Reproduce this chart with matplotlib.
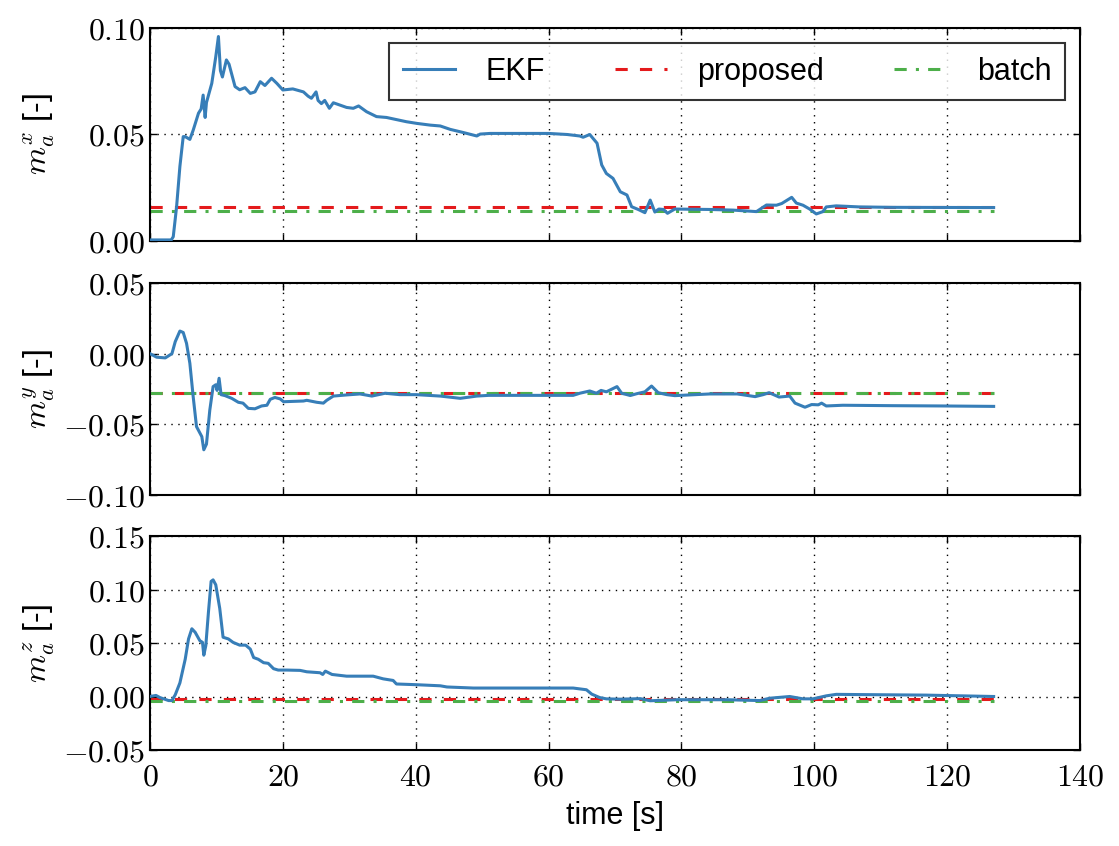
import matplotlib
matplotlib.use("Agg")
import matplotlib.pyplot as plt
from matplotlib.ticker import FuncFormatter, MultipleLocator

# ---------------- data ----------------
ekf_x_t = [0, 3.2, 3.5, 4.0, 4.5, 5.0, 5.3, 6.0, 6.5, 7.3, 7.7, 8.0, 8.3, 8.5, 9.3, 9.9, 10.3, 10.6, 10.9,
           11.5, 11.9, 12.8, 13.5, 14.3, 15.1, 15.8, 16.6, 17.3, 18.3, 19.1, 20.0, 21.5, 23.1, 23.8, 24.3,
           25.0, 25.3, 25.8, 26.3, 27.0, 27.6, 28.6, 29.6, 30.6, 31.4, 32.6, 34.1, 35.6, 37.1, 38.6, 40.2,
           42.2, 43.7, 45.2, 47.2, 49.2, 49.7, 51.2, 60.0, 62.8, 64.7, 65.2, 66.2, 67.3, 68.0, 68.7, 69.7,
           70.8, 71.8, 72.5, 73.5, 74.5, 75.3, 76.0, 76.6, 77.3, 77.9, 79.0, 84.3, 87.8, 91.3, 92.8, 94.3,
           95.1, 96.6, 97.3, 98.3, 99.3, 100.3, 101.3, 101.8, 103.3, 106.8, 111.8, 127.0]
ekf_x_v = [0.0005, 0.0005, 0.002, 0.016, 0.035, 0.049, 0.049, 0.0477, 0.052, 0.060, 0.062, 0.0685, 0.058,
           0.065, 0.074, 0.0865, 0.096, 0.080, 0.077, 0.085, 0.083, 0.0725, 0.071, 0.072, 0.0693, 0.070,
           0.0748, 0.073, 0.0764, 0.074, 0.0709, 0.0714, 0.070, 0.068, 0.067, 0.070, 0.066, 0.0645, 0.066,
           0.0623, 0.0649, 0.0638, 0.0627, 0.0623, 0.0634, 0.0607, 0.0584, 0.058, 0.057, 0.056, 0.0552,
           0.0544, 0.054, 0.0524, 0.0509, 0.0493, 0.0502, 0.0505, 0.0505, 0.050, 0.0493, 0.0487, 0.050,
           0.0459, 0.0357, 0.0317, 0.0294, 0.0231, 0.0216, 0.0161, 0.0148, 0.0133, 0.0192, 0.0136, 0.015,
           0.0148, 0.013, 0.015, 0.0148, 0.0145, 0.0138, 0.0169, 0.0168, 0.0176, 0.0205, 0.0178, 0.0168,
           0.015, 0.0127, 0.0138, 0.016, 0.0165, 0.016, 0.0158, 0.0157]

ekf_y_t = [0, 1.0, 2.3, 3.3, 3.8, 4.5, 5.0, 5.5, 6.0, 6.5, 7.0, 7.8, 8.1, 8.5, 9.0, 9.5, 9.9, 10.1, 10.4,
           10.7, 11.3, 12.3, 13.3, 14.0, 14.8, 15.8, 16.8, 17.6, 18.1, 18.8, 19.6, 20.1, 23.1, 23.6, 25.1,
           26.1, 26.6, 27.6, 29.6, 31.6, 33.4, 35.4, 37.6, 40.1, 43.7, 46.7, 49.2, 51.0, 63.7, 64.7, 66.2,
           67.2, 67.9, 68.7, 70.3, 71.0, 72.3, 73.3, 74.5, 75.5, 76.5, 77.8, 79.0, 84.3, 88.4, 91.1, 92.3,
           93.2, 94.7, 96.3, 97.1, 98.6, 99.6, 100.6, 101.1, 101.8, 104.3, 111.8, 119.3, 127.0]
ekf_y_v = [0.0, -0.0025, -0.003, 0.0, 0.0085, 0.016, 0.015, 0.0073, -0.0068, -0.0304, -0.0516, -0.0587,
           -0.068, -0.064, -0.040, -0.0233, -0.022, -0.026, -0.0174, -0.029, -0.0297, -0.0316, -0.0344,
           -0.035, -0.0387, -0.039, -0.037, -0.0365, -0.0323, -0.031, -0.032, -0.034, -0.0335, -0.033,
           -0.0344, -0.035, -0.033, -0.030, -0.0292, -0.0285, -0.030, -0.028, -0.029, -0.029, -0.030,
           -0.0316, -0.030, -0.0295, -0.0295, -0.028, -0.0264, -0.028, -0.026, -0.027, -0.0233, -0.028,
           -0.0296, -0.0283, -0.027, -0.0229, -0.0276, -0.029, -0.0297, -0.0285, -0.0285, -0.0304, -0.029,
           -0.0276, -0.0307, -0.030, -0.035, -0.0379, -0.036, -0.0362, -0.035, -0.037, -0.0365, -0.0368,
           -0.037, -0.0373]

ekf_z_t = [0, 0.9, 1.5, 2.8, 3.3, 3.8, 4.5, 5.3, 5.8, 6.3, 6.8, 7.5, 7.9, 8.1, 8.4, 8.8, 9.2, 9.5, 9.9,
           10.5, 11.0, 11.8, 12.5, 13.5, 14.4, 15.1, 15.6, 16.3, 17.1, 17.8, 18.6, 19.3, 20.6, 22.6, 23.6,
           25.6, 26.0, 26.4, 27.4, 29.6, 33.6, 35.1, 36.6, 37.1, 40.2, 43.7, 44.7, 48.7, 63.7, 65.7, 66.5,
           67.7, 68.7, 70.8, 73.8, 75.3, 79.3, 86.8, 91.8, 93.3, 96.3, 98.3, 99.8, 101.8, 103.3, 106.8,
           116.8, 127.0]
ekf_z_v = [0.0, 0.001, -0.001, -0.0038, -0.0038, 0.0016, 0.0127, 0.0348, 0.0538, 0.0633, 0.060, 0.0522,
           0.0506, 0.0386, 0.0475, 0.079, 0.1076, 0.109, 0.1044, 0.0823, 0.0554, 0.0538, 0.0506, 0.048,
           0.048, 0.0443, 0.0364, 0.0348, 0.0316, 0.031, 0.026, 0.0247, 0.0247, 0.0244, 0.0231, 0.0222,
           0.0206, 0.0237, 0.0206, 0.019, 0.019, 0.0165, 0.015, 0.0117, 0.011, 0.010, 0.0089, 0.0079,
           0.0079, 0.0063, 0.0022, -0.001, -0.0022, -0.0025, -0.002, -0.004, -0.003, -0.003, -0.0038,
           -0.0016, 0.0, -0.0022, -0.0022, 0.0006, 0.002, 0.0018, 0.0013, 0.0]

const_t = [0, 127]
proposed_vals = [0.0158, -0.028, -0.002]
batch_vals = [0.0143, -0.0275, -0.0045]

ylabels = [r"$m_a^x$ [-]", r"$m_a^y$ [-]", r"$m_a^z$ [-]"]
ylims = [(0.0, 0.10), (-0.10, 0.05), (-0.05, 0.15)]
legend_labels = ["EKF", "proposed", "batch"]
xlabel = "time [s]"

# ---------------- style ----------------
plt.rcParams["font.family"] = ["Liberation Sans", "DejaVu Sans"]
plt.rcParams["mathtext.fontset"] = "cm"

c_ekf = "#377eb8"
c_prop = "#e41a1c"
c_batch = "#4daf4a"

fig = plt.figure(figsize=(11.19, 8.46), dpi=100)
left, width = 150 / 1119, (1080 - 150) / 1119
boxes = [(28, 241), (283, 495), (536, 750)]

series = [(ekf_x_t, ekf_x_v), (ekf_y_t, ekf_y_v), (ekf_z_t, ekf_z_v)]
fmt = FuncFormatter(lambda v, p: r"$%.2f$" % v if abs(v) > 1e-12 else r"$0.00$")
xfmt = FuncFormatter(lambda v, p: r"$%d$" % round(v))

axes = []
for i, (top, bot) in enumerate(boxes):
    ax = fig.add_axes([left, 1 - bot / 846, width, (bot - top) / 846])
    t, v = series[i]
    l1, = ax.plot(t, v, color=c_ekf, lw=2.2, label=legend_labels[0], zorder=3)
    l2, = ax.plot(const_t, [proposed_vals[i]] * 2, color=c_prop, lw=2.2, ls=(0, (4, 4)),
                  label=legend_labels[1], zorder=2)
    l3, = ax.plot(const_t, [batch_vals[i]] * 2, color=c_batch, lw=2.2, ls=(0, (4, 3, 1, 3)),
                  label=legend_labels[2], zorder=2)
    ax.set_xlim(0, 140)
    ax.set_ylim(*ylims[i])
    ax.xaxis.set_major_locator(MultipleLocator(20))
    ax.yaxis.set_major_locator(MultipleLocator(0.05))
    ax.yaxis.set_major_formatter(fmt)
    ax.xaxis.set_major_formatter(xfmt)
    ax.grid(True, color="black", ls=(0, (1, 4)), lw=1.0)
    ax.tick_params(direction="in", top=True, right=True, length=5, width=1, labelsize=23)
    ax.tick_params(axis="x", pad=9)
    for s in ax.spines.values():
        s.set_linewidth(1.5)
    ax.set_ylabel(ylabels[i], fontsize=23)
    if i < 2:
        ax.tick_params(labelbottom=False)
    axes.append(ax)
    if i == 0:
        handles = [l1, l2, l3]

for ax in axes:
    ax.yaxis.set_label_coords(-0.1, 0.5)

axes[2].set_xlabel(xlabel, fontsize=22, labelpad=6)
leg = axes[0].legend(handles=handles, loc="upper right", ncol=3, fontsize=22, frameon=True,
                     fancybox=False, handlelength=1.7, handletextpad=1.0, columnspacing=2.3,
                     borderpad=0.45, borderaxespad=0.0, bbox_to_anchor=(0.984, 0.93))
leg.get_frame().set_edgecolor("black")
leg.get_frame().set_linewidth(1.5)

fig.savefig("out.png", dpi=100)
